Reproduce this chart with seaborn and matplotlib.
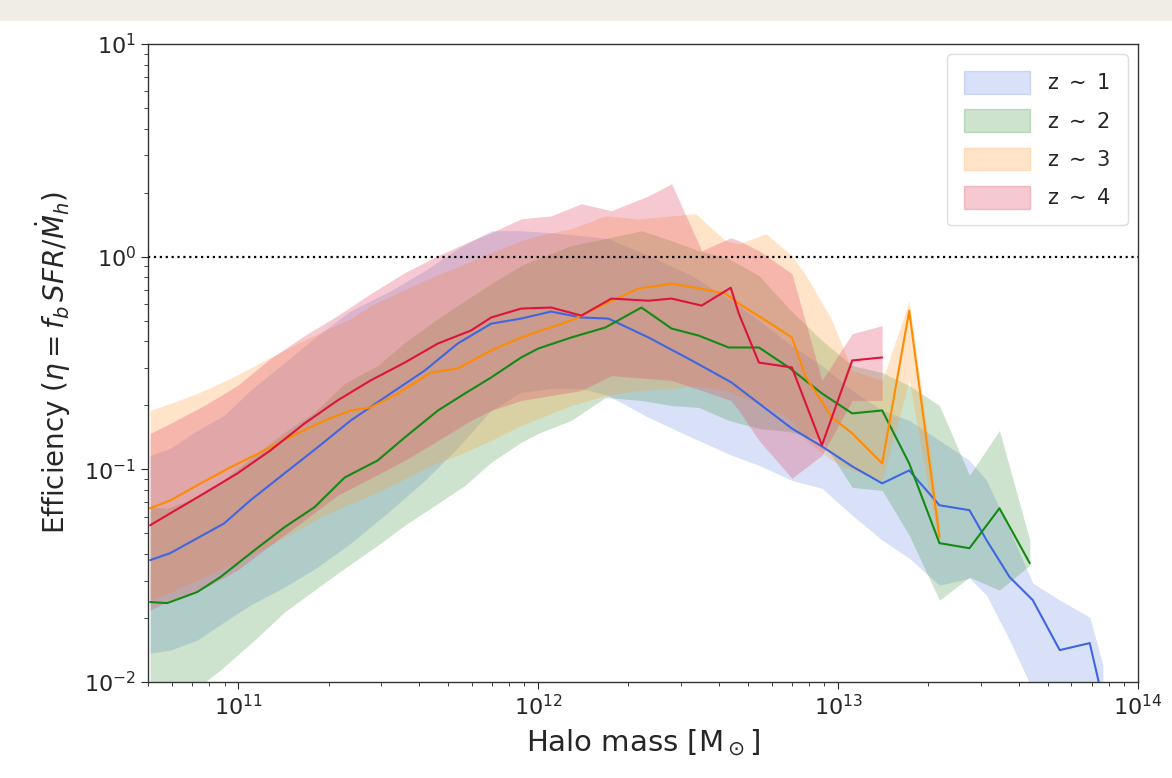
import numpy as np
import pandas as pd
import matplotlib
matplotlib.use("Agg")
import matplotlib.pyplot as plt
import seaborn as sns
from matplotlib.patches import Patch, Rectangle

# ---------------- data (log10 halo mass, log10 efficiency) ----------------
z1_logm = [10.706, 10.773, 10.863, 10.953, 11.040, 11.154, 11.264, 11.375, 11.508, 11.622,
           11.732, 11.843, 11.943, 12.043, 12.144, 12.234, 12.368, 12.512, 12.645, 12.736,
           12.846, 12.946, 13.047, 13.147, 13.237, 13.338, 13.438, 13.495, 13.572, 13.649,
           13.739, 13.839, 13.883]
z1_med = [-1.427, -1.394, -1.324, -1.254, -1.146, -1.019, -0.897, -0.770, -0.643, -0.535,
          -0.408, -0.315, -0.291, -0.258, -0.286, -0.291, -0.380, -0.488, -0.592, -0.690,
          -0.808, -0.892, -0.986, -1.066, -1.005, -1.169, -1.192, -1.333, -1.507, -1.615,
          -1.850, -1.817, -2.085]
z1_hi = [-0.934, -0.901, -0.817, -0.746, -0.629, -0.498, -0.371, -0.254, -0.160, -0.066,
         0.038, 0.122, 0.122, 0.113, 0.099, 0.085, 0.005, -0.089, -0.207, -0.300,
         -0.418, -0.512, -0.629, -0.723, -0.770, -0.864, -0.958, -1.052, -1.286, -1.535,
         -1.615, -1.695, -1.920]
z1_lo = [-1.864, -1.850, -1.803, -1.718, -1.638, -1.554, -1.460, -1.347, -1.192, -1.052,
         -0.897, -0.723, -0.638, -0.620, -0.620, -0.653, -0.756, -0.850, -0.934, -0.981,
         -1.052, -1.089, -1.216, -1.333, -1.418, -1.545, -1.512, -1.592, -1.803, -2.038,
         -2.085, -2.178, -2.225]

z2_logm = [10.706, 10.763, 10.863, 10.940, 11.054, 11.154, 11.254, 11.355, 11.465, 11.555,
           11.666, 11.756, 11.843, 11.943, 12.000, 12.110, 12.224, 12.344, 12.445, 12.535,
           12.635, 12.736, 12.836, 12.946, 13.047, 13.147, 13.237, 13.338, 13.438, 13.538,
           13.639]
z2_med = [-1.624, -1.629, -1.577, -1.507, -1.380, -1.272, -1.178, -1.038, -0.958, -0.850,
          -0.723, -0.643, -0.568, -0.474, -0.432, -0.380, -0.333, -0.239, -0.338, -0.371,
          -0.427, -0.427, -0.521, -0.643, -0.737, -0.723, -0.972, -1.347, -1.371, -1.183,
          -1.441]
z2_hi = [-1.178, -1.183, -1.131, -1.061, -0.934, -0.826, -0.732, -0.596, -0.512, -0.404,
         -0.291, -0.207, -0.127, -0.042, -0.009, 0.052, 0.085, 0.122, 0.075, 0.028,
         -0.009, -0.089, -0.244, -0.394, -0.512, -0.545, -0.606, -0.700, -1.028, -0.817,
         -1.333]
z2_lo = [-2.155, -2.108, -2.028, -1.944, -1.803, -1.671, -1.568, -1.465, -1.357, -1.263,
         -1.160, -1.075, -0.967, -0.873, -0.831, -0.770, -0.662, -0.676, -0.700, -0.709,
         -0.770, -0.808, -0.822, -0.864, -1.085, -1.099, -1.310, -1.615, -1.507, -1.568,
         -1.451]

z3_logm = [10.706, 10.773, 10.863, 10.973, 11.087, 11.197, 11.288, 11.375, 11.441, 11.532,
           11.642, 11.732, 11.843, 11.943, 12.000, 12.110, 12.224, 12.334, 12.445, 12.525,
           12.625, 12.669, 12.759, 12.846, 12.893, 12.980, 13.047, 13.147, 13.237, 13.338]
z3_med = [-1.183, -1.146, -1.075, -0.991, -0.911, -0.831, -0.770, -0.723, -0.709, -0.643,
          -0.545, -0.526, -0.441, -0.380, -0.352, -0.300, -0.221, -0.150, -0.127, -0.146,
          -0.174, -0.221, -0.300, -0.380, -0.568, -0.756, -0.831, -0.972, -0.254, -1.319]
z3_hi = [-0.723, -0.690, -0.643, -0.573, -0.488, -0.408, -0.347, -0.291, -0.230, -0.169,
         -0.099, -0.047, 0.019, 0.075, 0.099, 0.131, 0.192, 0.178, 0.192, 0.202,
         0.075, 0.061, 0.108, 0.005, -0.089, -0.300, -0.535, -0.582, -0.207, -1.239]
z3_lo = [-1.615, -1.577, -1.521, -1.451, -1.371, -1.286, -1.216, -1.160, -1.122, -1.061,
         -0.981, -0.934, -0.864, -0.793, -0.761, -0.700, -0.653, -0.629, -0.620, -0.606,
         -0.629, -0.653, -0.700, -0.770, -0.864, -0.958, -1.005, -1.052, -0.582, -1.380]

z4_logm = [10.706, 10.773, 10.886, 10.997, 11.107, 11.221, 11.331, 11.441, 11.555, 11.666,
           11.776, 11.843, 11.943, 12.043, 12.144, 12.244, 12.368, 12.445, 12.545, 12.642,
           12.669, 12.736, 12.846, 12.946, 13.047, 13.147]
z4_med = [-1.263, -1.207, -1.113, -1.019, -0.911, -0.784, -0.676, -0.582, -0.498, -0.408,
          -0.347, -0.286, -0.244, -0.239, -0.277, -0.197, -0.207, -0.197, -0.230, -0.146,
          -0.268, -0.498, -0.521, -0.887, -0.488, -0.474]
z4_hi = [-0.831, -0.784, -0.700, -0.606, -0.479, -0.371, -0.277, -0.174, -0.075, 0.005,
         0.075, 0.113, 0.178, 0.192, 0.249, 0.216, 0.286, 0.343, 0.028, 0.089,
         0.075, 0.028, -0.080, -0.582, -0.362, -0.324]
z4_lo = [-1.662, -1.615, -1.559, -1.474, -1.357, -1.239, -1.122, -1.042, -0.958, -0.864,
         -0.770, -0.723, -0.676, -0.653, -0.629, -0.559, -0.573, -0.582, -0.629, -0.676,
         -0.723, -0.864, -1.042, -0.934, -0.676, -0.676]

labels = [r"z $\sim$ 1", r"z $\sim$ 2", r"z $\sim$ 3", r"z $\sim$ 4"]
line_colors = ["#3f66e0", "#138a13", "#ff8c00", "#dc143c"]
fill_colors = ["#4169e1", "#2e8b2e", "#ff9a30", "#e0405e"]
fill_alpha = [0.2, 0.24, 0.26, 0.28]

series = [
    (z1_logm, z1_med, z1_lo, z1_hi),
    (z2_logm, z2_med, z2_lo, z2_hi),
    (z3_logm, z3_med, z3_lo, z3_hi),
    (z4_logm, z4_med, z4_lo, z4_hi),
]

# ---------------- figure ----------------
sns.set_style("ticks")
plt.rcParams["font.family"] = ["DejaVu Sans"]
plt.rcParams["mathtext.fontset"] = "dejavusans"

fig = plt.figure(figsize=(11.72, 7.78), dpi=100)
ax = fig.add_axes([0.1263, 0.1234, 0.971 - 0.1263, 0.9434 - 0.1234])

frames = []
for lab, (lm, med, lo, hi) in zip(labels, series):
    frames.append(pd.DataFrame({
        "mass": 10 ** np.asarray(lm, float),
        "eta": 10 ** np.asarray(med, float),
        "lo": 10 ** np.asarray(lo, float),
        "hi": 10 ** np.asarray(hi, float),
        "z": lab,
    }))
df = pd.concat(frames, ignore_index=True)

handles = []
for lab, lc, fc, fa in zip(labels, line_colors, fill_colors, fill_alpha):
    d = df[df["z"] == lab]
    ax.fill_between(d["mass"], d["lo"], d["hi"], color=fc, alpha=fa, linewidth=0)
    handles.append(Patch(facecolor=fc, alpha=fa, edgecolor=fc, label=lab))

sns.lineplot(data=df, x="mass", y="eta", hue="z", palette=dict(zip(labels, line_colors)),
             estimator=None, sort=False, linewidth=1.5, legend=False, ax=ax)

ax.axhline(1.0, color="black", linestyle=":", linewidth=1.6)

ax.set_xscale("log")
ax.set_yscale("log")
ax.set_xlim(5e10, 1e14)
ax.set_ylim(1e-2, 1e1)

ax.set_xlabel(r"Halo mass [M$_\odot$]", fontsize=21, labelpad=6)
ax.set_ylabel(r"Efficiency ($\eta = f_b\,SFR/\dot{M}_h$)", fontsize=20, labelpad=8)
ax.tick_params(axis="both", which="major", labelsize=16, length=5)
ax.tick_params(axis="both", which="minor", length=3)
for s in ax.spines.values():
    s.set_visible(True)
    s.set_linewidth(1.0)
    s.set_color("#333333")

ax.legend(handles=handles, loc="upper right", fontsize=15, handlelength=3.2,
          handleheight=1.3, labelspacing=0.75, borderpad=0.8, frameon=True,
          fancybox=True, framealpha=1.0, edgecolor="#dddddd")

# light strip across the top of the image
fig.add_artist(Rectangle((0, 1 - 21 / 778), 1, 21 / 778, transform=fig.transFigure,
                         facecolor="#f0ede7", edgecolor="none", zorder=-10))

fig.savefig("out.png", dpi=100)
